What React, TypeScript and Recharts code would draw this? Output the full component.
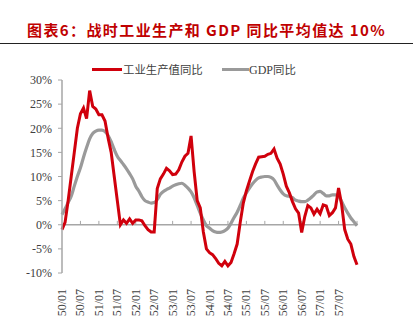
import React from "react";
import { LineChart, Line, XAxis, YAxis, ReferenceLine } from "recharts";

const months: string[] = [];
for (let y = 50; y <= 58; y++) {
  for (let m = 1; m <= 12; m++) {
    months.push(`${y}/${m < 10 ? "0" + m : m}`);
  }
}

const industry = [
  -1.0, 0.5, 5, 10, 15, 20, 23, 24.2, 22, 27.8, 24.5, 24.0,
  22.8, 22.8, 21.5, 18, 15, 10, 5, 0.0, 1.0, 0.3, 1.2, 0.3,
  1.0, 1.0, 0.8, -0.2, -1.0, -1.5, -1.5, 7.5, 9.5, 10.5, 11.7, 11.2,
  10.4, 10.5, 11.4, 13.0, 14.2, 14.8, 18.4, 11, 5, 3.5, -1.5, -5.0,
  -5.8, -6.2, -7.0, -8.0, -8.5, -7.6, -8.5, -7.8, -6.0, -4.0, 0.5, 4.5,
  7.0, 9.0, 11.0, 12.6, 14.0, 14.1, 14.2, 14.6, 14.8, 15.7, 13.8, 12.6,
  10.5, 8, 6.6, 4.8, 3.3, 2.4, -1.6, 1.7, 4.0, 3.5, 2.2, 3.2,
  2.3, 4.1, 3.9, 1.9, 2.5, 3.5, 7.6, 4.2, -1.0, -3.0, -4.0, -6.6,
  -8.3,
];

const gdp = [
  2.1, 3.3, 4.6, 5.9, 8, 10, 11.8, 14, 16, 17.8, 18.9, 19.4,
  19.6, 19.6, 19.3, 18.5, 17.2, 15.6, 14.2, 13.3, 12.5, 11.6, 10.6, 9.5,
  8.0, 7.0, 5.8, 5.0, 4.7, 4.5, 4.6, 5.2, 6.3, 6.9, 7.3, 7.6,
  8.0, 8.3, 8.5, 8.6, 8.2, 7.6, 6.8, 5.6, 4.0, 2.4, 1.0, -0.2,
  -0.7, -1.2, -1.5, -1.6, -1.5, -1.2, -0.7, 0.3, 1.5, 2.6, 4.0, 5.5,
  6.6, 7.6, 8.5, 9.2, 9.7, 9.9, 10.0, 10.0, 9.8, 9.3, 8.2, 7.2,
  6.4, 6.0, 5.9, 5.6, 5.1, 4.9, 4.8, 4.8, 5.1, 5.6, 6.2, 6.8,
  6.9, 6.5, 6.0, 6.0, 6.2, 6.2, 5.9, 4.8, 3.5, 2.4, 1.4, 0.6,
  -0.2,
];

const yTicks = [-10, -5, 0, 5, 10, 15, 20, 25, 30];
const xTicks = [0, 6, 12, 18, 24, 30, 36, 42, 48, 54, 60, 66, 72, 78, 84, 90];
const xTickMarks = [6, 12, 18, 24, 30, 36, 42, 48, 54, 60, 66, 72, 78, 84, 90, 96];

const data = industry.map((v, i) => ({ i, industry: v, gdp: gdp[i], label: months[i] }));

const RED = "#D0000C";
const GRAY = "#9A9A9A";
const AXIS = "#A6A6A6";
const TXT = "#404040";
const SERIF = "'Liberation Serif', 'Times New Roman', serif";
const CJK = "'Noto Sans CJK SC', sans-serif";

const XTick = (props: any) => {
  const { x, y, payload } = props;
  const ax = x + 4;
  const ay = y + 8;
  return (
    <text
      x={ax}
      y={ay}
      transform={`rotate(-90, ${ax}, ${ay})`}
      textAnchor="end"
      fontSize={12}
      fontFamily={SERIF}
      fill={TXT}
    >
      {months[payload.value]}
    </text>
  );
};

export default function App() {
  return (
    <div style={{ position: "absolute", left: 0, top: 0, width: 416, height: 336, background: "#fff" }}>
      <div
        style={{
          position: "absolute",
          left: 27,
          top: 19,
          fontFamily: CJK,
          fontWeight: 700,
          fontSize: 15,
          color: "#C00000",
          whiteSpace: "nowrap",
          lineHeight: "22px",
          letterSpacing: 1.4,
        }}
      >
        图表6：战时工业生产和 GDP 同比平均值达 10%
      </div>
      <div style={{ position: "absolute", left: 0, top: 43, width: 413, height: 1, background: "#222" }} />
      <div style={{ position: "absolute", left: 92, top: 68, width: 30, height: 3, background: RED }} />
      <div
        style={{
          position: "absolute",
          left: 123,
          top: 61,
          fontFamily: CJK,
          fontSize: 11.4,
          color: TXT,
          lineHeight: "16px",
          whiteSpace: "nowrap",
        }}
      >
        工业生产值同比
      </div>
      <div style={{ position: "absolute", left: 222, top: 68, width: 27, height: 3, background: GRAY }} />
      <div
        style={{
          position: "absolute",
          left: 249,
          top: 61,
          fontFamily: SERIF,
          fontSize: 12,
          color: TXT,
          lineHeight: "16px",
          whiteSpace: "nowrap",
        }}
      >
        GDP<span style={{ fontFamily: CJK, fontSize: 11.4 }}>同比</span>
      </div>
      <div style={{ position: "absolute", left: 0, top: 0 }}>
        <LineChart
          width={416}
          height={336}
          data={data}
          margin={{ top: 80, right: 59, bottom: 23, left: 0 }}
        >
          <XAxis
            dataKey="i"
            type="number"
            domain={[0, 96]}
            ticks={xTicks}
            interval={0}
            axisLine={false}
            tickLine={false}
            tick={<XTick />}
            height={40}
          />
          <YAxis
            type="number"
            domain={[-10, 30]}
            ticks={yTicks}
            interval={0}
            width={62}
            axisLine={{ stroke: AXIS, strokeWidth: 1.5 }}
            tickLine={{ stroke: AXIS, strokeWidth: 1 }}
            tickSize={4}
            tickMargin={6}
            tick={{ fontSize: 12, fontFamily: SERIF, fill: TXT }}
            tickFormatter={(v: number) => `${v}%`}
          />
          <ReferenceLine y={0} stroke={AXIS} strokeWidth={1.5} ifOverflow="visible" />
          {xTickMarks.map((t) => (
            <ReferenceLine
              key={t}
              segment={[
                { x: t, y: 0 },
                { x: t, y: 0.8 },
              ]}
              stroke={AXIS}
              strokeWidth={1}
            />
          ))}
          <Line
            type="monotone"
            dataKey="gdp"
            stroke={GRAY}
            strokeWidth={3.2}
            dot={false}
            isAnimationActive={false}
          />
          <Line
            type="linear"
            dataKey="industry"
            stroke={RED}
            strokeWidth={3}
            dot={false}
            isAnimationActive={false}
          />
        </LineChart>
      </div>
    </div>
  );
}
